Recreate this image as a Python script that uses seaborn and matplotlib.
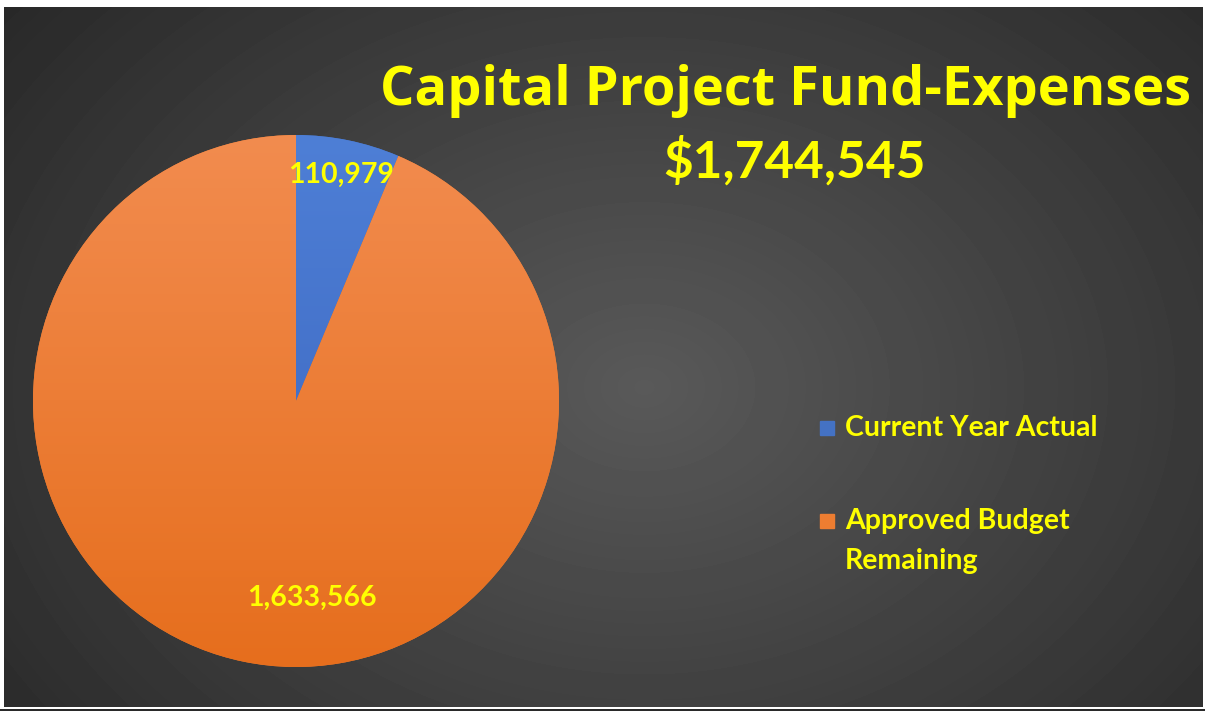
import numpy as np
import matplotlib.pyplot as plt
import matplotlib.patches as mpatches
from matplotlib.colors import LinearSegmentedColormap
import seaborn as sns

# data
categories = ['Current Year Actual', 'Approved Budget\nRemaining']
amounts = [110979, 1633566]
slice_labels = ['110,979', '1,633,566']
title_line1 = 'Capital Project Fund-Expenses'
title_line2 = '$1,744,545'

sns.set_theme(style='dark')
plt.rcParams['font.family'] = ['Lato', 'DejaVu Sans']

YELLOW = '#FFFF00'
top_cols = ['#4E7FD6', '#F28C4F']
bot_cols = ['#3A63BC', '#E66E1D']
palette = sns.color_palette(['#4472C4', '#ED7D31'])

W, H = 1205, 711
fig = plt.figure(figsize=(W / 100, H / 100), dpi=100, facecolor='white')

# dark radial background
bg = fig.add_axes([4 / W, 4 / H, 1199 / W, 700 / H])
yy, xx = np.mgrid[0:700, 0:1199]
d = np.sqrt(((xx - 640) / 860) ** 2 + ((yy - 380) / 650) ** 2)
shade = np.clip(0.35 - 0.2 * d, 0.14, 0.35)
bg.imshow(shade, cmap='gray', vmin=0, vmax=1, aspect='auto', interpolation='bilinear')
bg.set_axis_off()
fig.add_artist(plt.Line2D([0, 1], [1.2 / H, 1.2 / H], color='black', lw=1.2))

# pie
ax = fig.add_axes([33 / W, (H - 667) / H, 526 / W, 532 / H])
wedges, _ = ax.pie(amounts, colors=palette, startangle=90, counterclock=False,
                   radius=1, wedgeprops=dict(linewidth=0))
ax.set_aspect('auto')
ax.set_xlim(-1, 1)
ax.set_ylim(-1, 1)
ax.set_axis_off()

# top-to-bottom shading inside each slice
grad = np.linspace(0, 1, 256).reshape(-1, 1)
for w, c0, c1 in zip(wedges, top_cols, bot_cols):
    cm = LinearSegmentedColormap.from_list('g', [c0, c1])
    im = ax.imshow(grad, cmap=cm, extent=(-1, 1, -1, 1), aspect='auto',
                   origin='upper', zorder=w.get_zorder() + 0.1)
    im.set_clip_path(w)

ax.text(0.17, 0.85, slice_labels[0], color=YELLOW, fontsize=20.5, fontweight='bold',
        ha='center', va='center', zorder=5)
ax.text(0.06, -0.74, slice_labels[1], color=YELLOW, fontsize=20.5, fontweight='bold',
        ha='center', va='center', zorder=5)

# title
fig.text(786 / W, 1 - 105 / H, title_line1, color=YELLOW, fontsize=39, fontweight='bold',
         ha='center', va='baseline', family=['Open Sans', 'DejaVu Sans'])
fig.text(795 / W, 1 - 178 / H, title_line2, color=YELLOW, fontsize=37, fontweight='bold',
         ha='center', va='baseline')

# legend
leg_y = [428, 521]
for lab, col, y in zip(categories, palette, leg_y):
    fig.add_artist(mpatches.Rectangle((820 / W, 1 - (y + 7) / H), 14 / W, 14 / H,
                                      color=col, transform=fig.transFigure))
    for i, line in enumerate(lab.split('\n')):
        fig.text(845 / W, 1 - (y + 40 * i) / H, line, color=YELLOW, fontsize=20.5,
                 fontweight='bold', ha='left', va='center')

fig.savefig('out.png', dpi=100, facecolor='white')
